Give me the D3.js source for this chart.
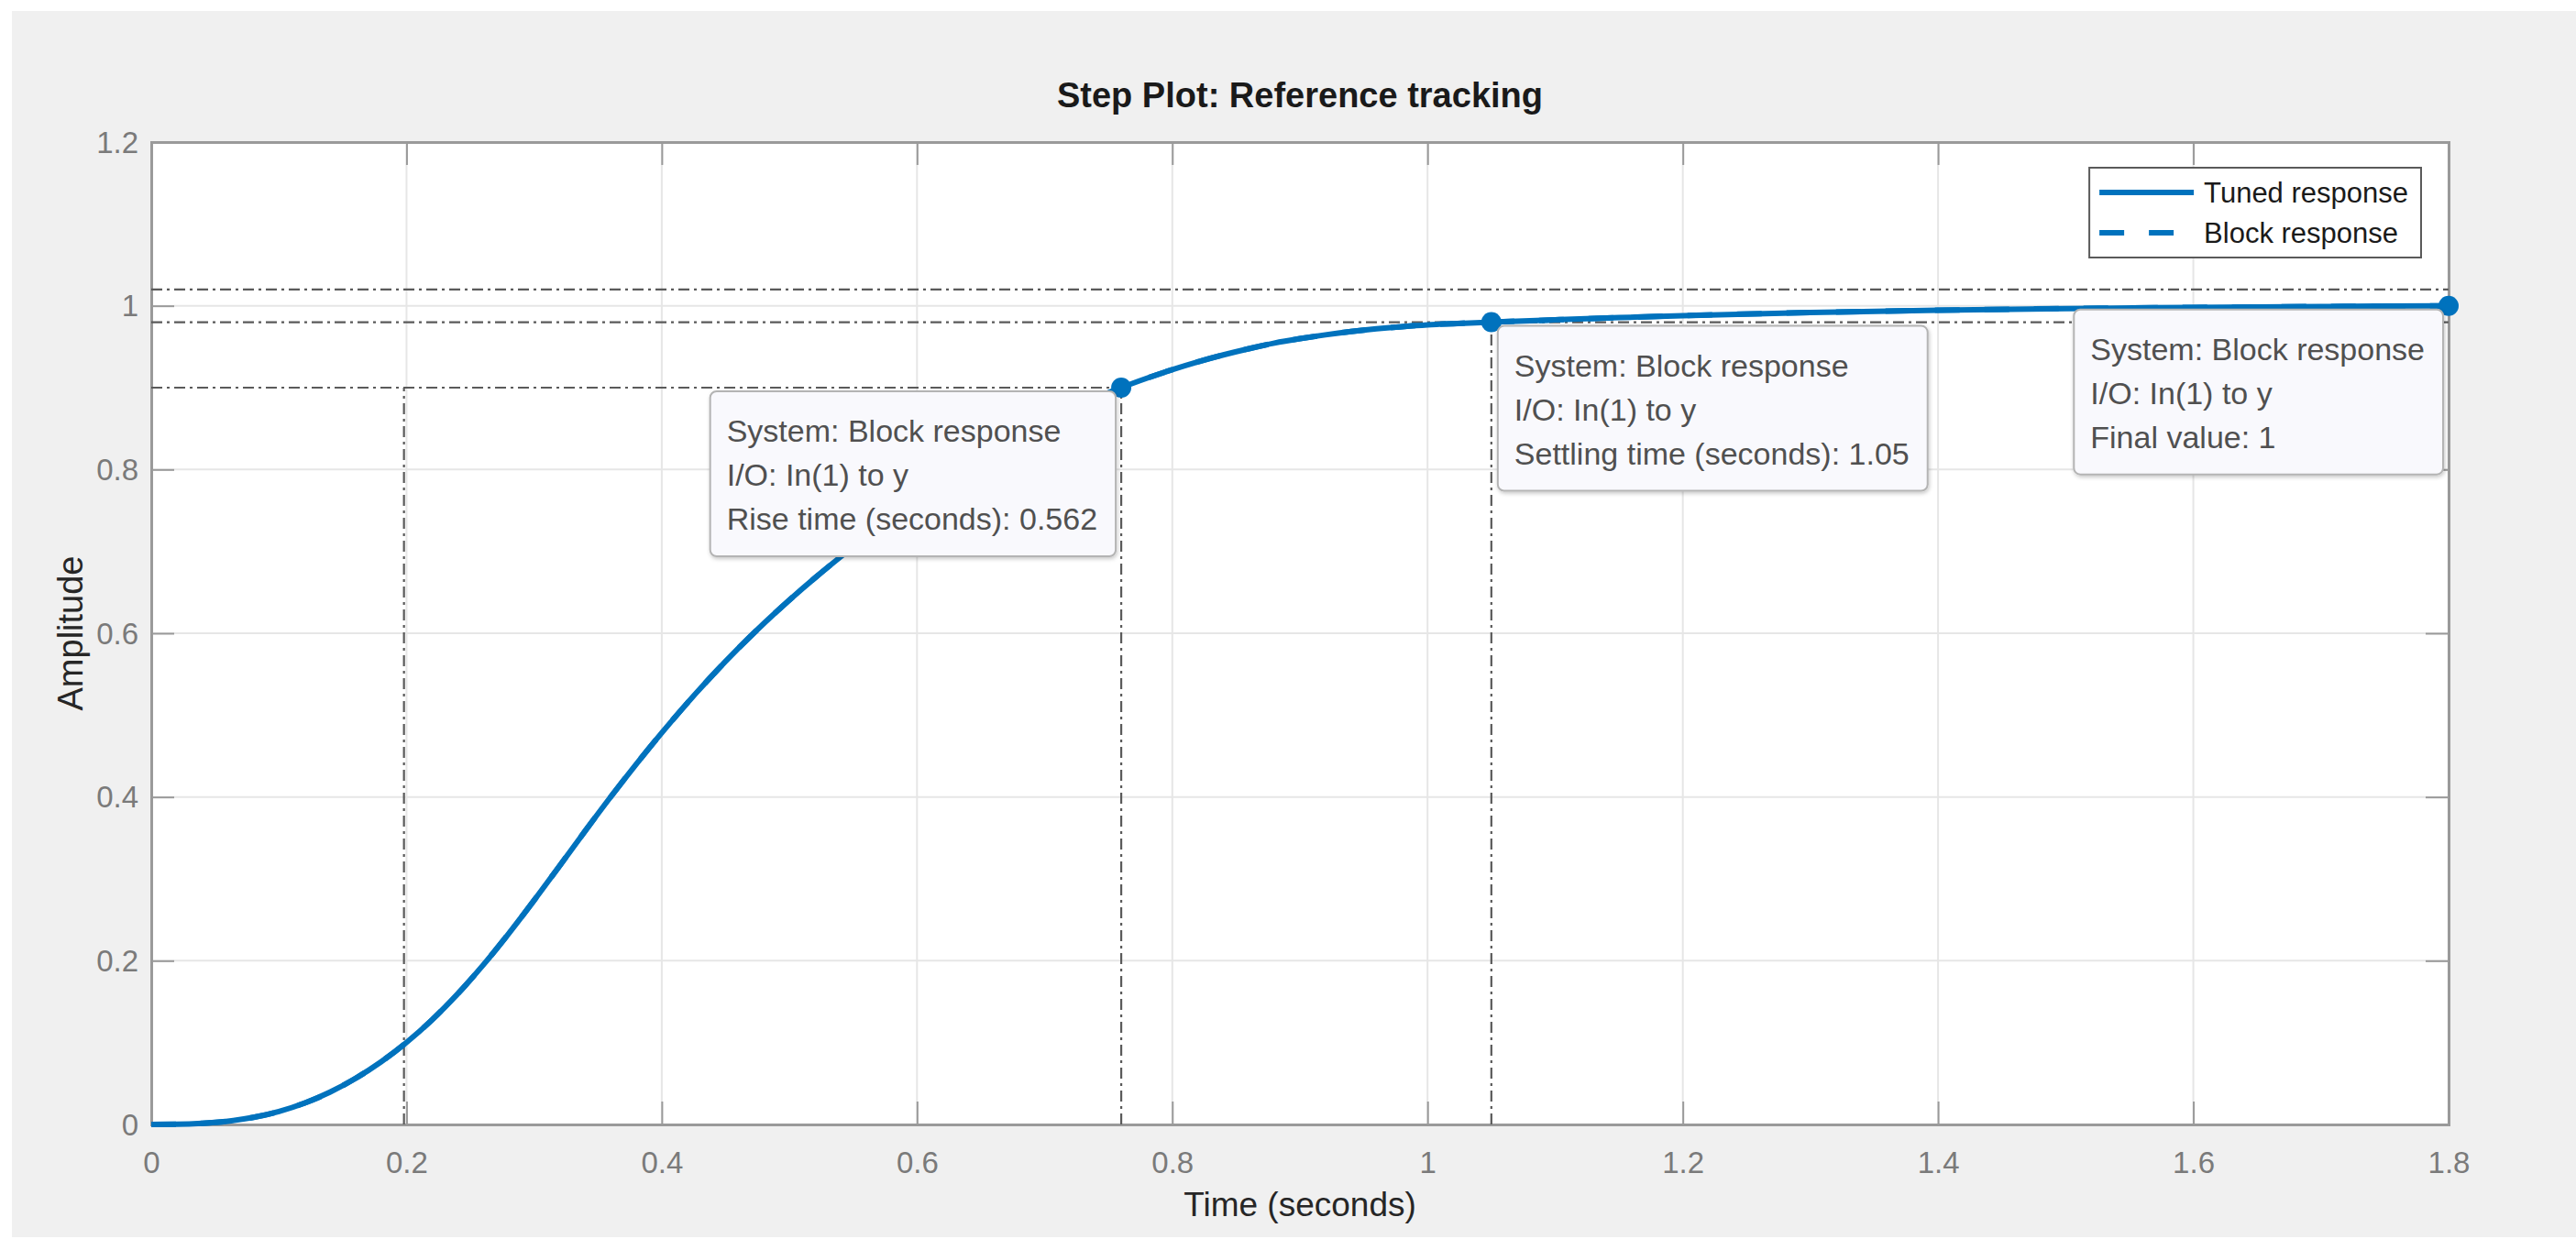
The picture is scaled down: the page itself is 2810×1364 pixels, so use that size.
<!DOCTYPE html>
<html><head><meta charset="utf-8">
<script src="https://cdn.jsdelivr.net/npm/d3@7"></script>
<style>html,body{margin:0;padding:0;background:#fff;overflow:hidden}</style>
</head><body><svg id="chart" width="2810" height="1364"></svg>
<script>
// ---------------- data ----------------
const timeSeconds = [0, 0.02, 0.04, 0.06, 0.08, 0.10, 0.12, 0.14, 0.16, 0.18, 0.20, 0.22, 0.24, 0.26, 0.28, 0.30,
  0.32, 0.34, 0.36, 0.38, 0.40, 0.42, 0.44, 0.46, 0.48, 0.50, 0.52, 0.54, 0.56, 0.58, 0.60, 0.62, 0.64, 0.66,
  0.68, 0.70, 0.72, 0.74, 0.76, 0.78, 0.80, 0.82, 0.84, 0.86, 0.88, 0.90, 0.92, 0.94, 0.96, 0.98, 1.00, 1.02,
  1.05, 1.10, 1.15, 1.20, 1.30, 1.40, 1.50, 1.60, 1.70, 1.80];
const tunedResponse = [0, 0.0002, 0.0014, 0.004, 0.0086, 0.0158, 0.026, 0.0394, 0.0562, 0.0764, 0.1002, 0.1278,
  0.1594, 0.1946, 0.233, 0.2738, 0.316, 0.3586, 0.4002, 0.4402, 0.4784, 0.5148, 0.5492, 0.5816, 0.612, 0.6406,
  0.6676, 0.6932, 0.718, 0.7416, 0.764, 0.7852, 0.8052, 0.824, 0.8416, 0.858, 0.8732, 0.8872, 0.9, 0.9115,
  0.922, 0.9315, 0.94, 0.9476, 0.9544, 0.9598, 0.9645, 0.9685, 0.9718, 0.9745, 0.9767, 0.9782,
  0.98, 0.9828, 0.9855, 0.988, 0.9918, 0.9946, 0.9966, 0.998, 0.9991, 1.0];
const blockResponse = tunedResponse.slice();
const seriesNames = ["Tuned response", "Block response"];

const xTickValues = [0, 0.2, 0.4, 0.6, 0.8, 1, 1.2, 1.4, 1.6, 1.8];
const xTickLabels = ["0", "0.2", "0.4", "0.6", "0.8", "1", "1.2", "1.4", "1.6", "1.8"];
const yTickValues = [0, 0.2, 0.4, 0.6, 0.8, 1, 1.2];
const yTickLabels = ["0", "0.2", "0.4", "0.6", "0.8", "1", "1.2"];

const markerTimes  = [0.76, 1.05, 1.8];
const markerValues = [0.9, 0.98, 1];
const markerTexts  = [
  ["System: Block response", "I/O: In(1) to y", "Rise time (seconds): 0.562"],
  ["System: Block response", "I/O: In(1) to y", "Settling time (seconds): 1.05"],
  ["System: Block response", "I/O: In(1) to y", "Final value: 1"]
];
const markerBoxSide = ["left", "right", "left"];

// characteristic guide lines: [t1, y1, t2, y2]
const guideSegments = [
  [0, 1.02, 1.8, 1.02],
  [0, 0.98, 1.8, 0.98],
  [0, 0.9, 0.76, 0.9],
  [0.198, 0, 0.198, 0.9],
  [0.76, 0, 0.76, 0.9],
  [1.05, 0, 1.05, 0.98]
];

const titleText = "Step Plot: Reference tracking";
const xLabelText = "Time (seconds)";
const yLabelText = "Amplitude";

// ---------------- layout ----------------
const W = 2810, H = 1364;
const plot = {left: 165, right: 2671, top: 155, bottom: 1227};
const blue = "#0072BD";
const FONT = "'Liberation Sans', Arial, Helvetica, sans-serif";

const svg = d3.select("#chart");
const defs = svg.append("defs");
const f = defs.append("filter").attr("id", "shadow").attr("x", "-10%").attr("y", "-10%").attr("width", "130%").attr("height", "130%");
f.append("feDropShadow").attr("dx", 1).attr("dy", 2).attr("stdDeviation", 2).attr("flood-color", "#000").attr("flood-opacity", 0.22);

svg.append("rect").attr("x", 13).attr("y", 12).attr("width", W - 13).attr("height", 1350 - 12).attr("fill", "#f0f0f0");

const x = d3.scaleLinear().domain([0, 1.8]).range([plot.left, plot.right]);
const y = d3.scaleLinear().domain([0, 1.2]).range([plot.bottom, plot.top]);

// plot background
svg.append("rect").attr("x", plot.left).attr("y", plot.top)
  .attr("width", plot.right - plot.left).attr("height", plot.bottom - plot.top).attr("fill", "#fff");

// grid
const grid = svg.append("g");
grid.selectAll("line.gx").data(xTickValues).join("line")
  .attr("x1", d => x(d)).attr("x2", d => x(d)).attr("y1", plot.top).attr("y2", plot.bottom)
  .attr("stroke", "#e6e6e6").attr("stroke-width", 2);
grid.selectAll("line.gy").data(yTickValues).join("line")
  .attr("y1", d => y(d)).attr("y2", d => y(d)).attr("x1", plot.left).attr("x2", plot.right)
  .attr("stroke", "#e6e6e6").attr("stroke-width", 2);

// axes with inward ticks
const tickLen = 25;
const axisColor = "#9a9a9a";
const xAxisB = d3.axisBottom(x).tickValues(xTickValues).tickSize(-tickLen).tickPadding(30)
  .tickFormat((d, i) => xTickLabels[i]);
const gxB = svg.append("g").attr("transform", `translate(0,${plot.bottom})`).call(xAxisB);
const xAxisT = d3.axisTop(x).tickValues(xTickValues).tickSize(-tickLen).tickFormat("");
const gxT = svg.append("g").attr("transform", `translate(0,${plot.top})`).call(xAxisT);
const yAxisL = d3.axisLeft(y).tickValues(yTickValues).tickSize(-tickLen).tickPadding(14)
  .tickFormat((d, i) => yTickLabels[i]);
const gyL = svg.append("g").attr("transform", `translate(${plot.left},0)`).call(yAxisL);
const yAxisR = d3.axisRight(y).tickValues(yTickValues).tickSize(-tickLen).tickFormat("");
const gyR = svg.append("g").attr("transform", `translate(${plot.right},0)`).call(yAxisR);
[gxB, gxT, gyL, gyR].forEach(g => {
  g.select(".domain").attr("stroke", axisColor).attr("stroke-width", 3);
  g.selectAll(".tick line").attr("stroke", axisColor).attr("stroke-width", 2);
  g.selectAll(".tick text").attr("fill", "#7a7a7a").style("font-family", FONT).style("font-size", "33px");
});
gyL.selectAll(".tick text").attr("dy", "0.34em");

// guide lines
svg.append("g").selectAll("line").data(guideSegments).join("line")
  .attr("x1", d => x(d[0])).attr("y1", d => y(d[1])).attr("x2", d => x(d[2])).attr("y2", d => y(d[3]))
  .attr("stroke", "#5a5a5a").attr("stroke-width", 2.2).attr("stroke-dasharray", "12,5,3,5");

// response curves
const pts = timeSeconds.map((t, i) => [t, tunedResponse[i]]);
const ptsB = timeSeconds.map((t, i) => [t, blockResponse[i]]);
const line = d3.line().x(d => x(d[0])).y(d => y(d[1])).curve(d3.curveMonotoneX);
svg.append("path").attr("d", line(pts)).attr("fill", "none").attr("stroke", blue).attr("stroke-width", 6);
svg.append("path").attr("d", line(ptsB)).attr("fill", "none").attr("stroke", blue).attr("stroke-width", 6)
  .attr("stroke-dasharray", "27,27");

// markers
svg.append("g").selectAll("circle").data(markerTimes).join("circle")
  .attr("cx", d => x(d)).attr("cy", (d, i) => y(markerValues[i])).attr("r", 11).attr("fill", blue);

// data tips
const tipFont = 34, tipPad = 18, tipLine = 48;
markerTimes.forEach((t, i) => {
  const mx = x(t), my = y(markerValues[i]);
  const g = svg.append("g");
  const tx = g.append("g");
  const texts = markerTexts[i];
  texts.forEach((s, k) => {
    tx.append("text").text(s).attr("y", 55 + k * tipLine).attr("x", tipPad)
      .style("font-family", FONT).style("font-size", tipFont + "px").attr("fill", "#505050");
  });
  const tw = d3.max(tx.selectAll("text").nodes(), n => n.getComputedTextLength());
  const bw = tw + 2 * tipPad + 2, bh = 180;
  const bx = markerBoxSide[i] === "left" ? mx - 6 - bw : mx + 7;
  const by = my + 4;
  g.attr("transform", `translate(${bx},${by})`);
  g.insert("rect", ":first-child").attr("width", bw).attr("height", bh).attr("rx", 7)
    .attr("fill", "#f9f9fd").attr("stroke", "#b4b4b4").attr("stroke-width", 2).attr("filter", "url(#shadow)");
});

// legend
const lg = svg.append("g");
const lgItems = lg.append("g");
seriesNames.forEach((s, i) => {
  lgItems.append("text").text(s).attr("x", 125).attr("y", 27 + i * 44).attr("dy", "0.35em")
    .style("font-family", FONT).style("font-size", "31px").attr("fill", "#1a1a1a");
  lgItems.append("line").attr("x1", 11).attr("x2", 114).attr("y1", 27 + i * 44).attr("y2", 27 + i * 44)
    .attr("stroke", blue).attr("stroke-width", 6).attr("stroke-dasharray", i === 1 ? "27,27" : null);
});
const ltw = d3.max(lgItems.selectAll("text").nodes(), n => n.getComputedTextLength());
const lw = 125 + ltw + 14, lh = 98;
lg.insert("rect", ":first-child").attr("width", lw).attr("height", lh).attr("fill", "#fff")
  .attr("stroke", "#5a5a5a").attr("stroke-width", 2);
lg.attr("transform", `translate(${plot.right - 30 - lw},${plot.top + 28})`);

// title and labels
svg.append("text").text(titleText).attr("x", (plot.left + plot.right) / 2).attr("y", 117)
  .attr("text-anchor", "middle").style("font-family", FONT).style("font-size", "38px").style("font-weight", "bold").attr("fill", "#1a1a1a");
svg.append("text").text(xLabelText).attr("x", (plot.left + plot.right) / 2).attr("y", 1327)
  .attr("text-anchor", "middle").style("font-family", FONT).style("font-size", "37px").attr("fill", "#262626");
svg.append("text").text(yLabelText)
  .attr("transform", `translate(90,${(plot.top + plot.bottom) / 2}) rotate(-90)`)
  .attr("text-anchor", "middle").style("font-family", FONT).style("font-size", "38px").attr("fill", "#262626");
</script>
</body></html>
